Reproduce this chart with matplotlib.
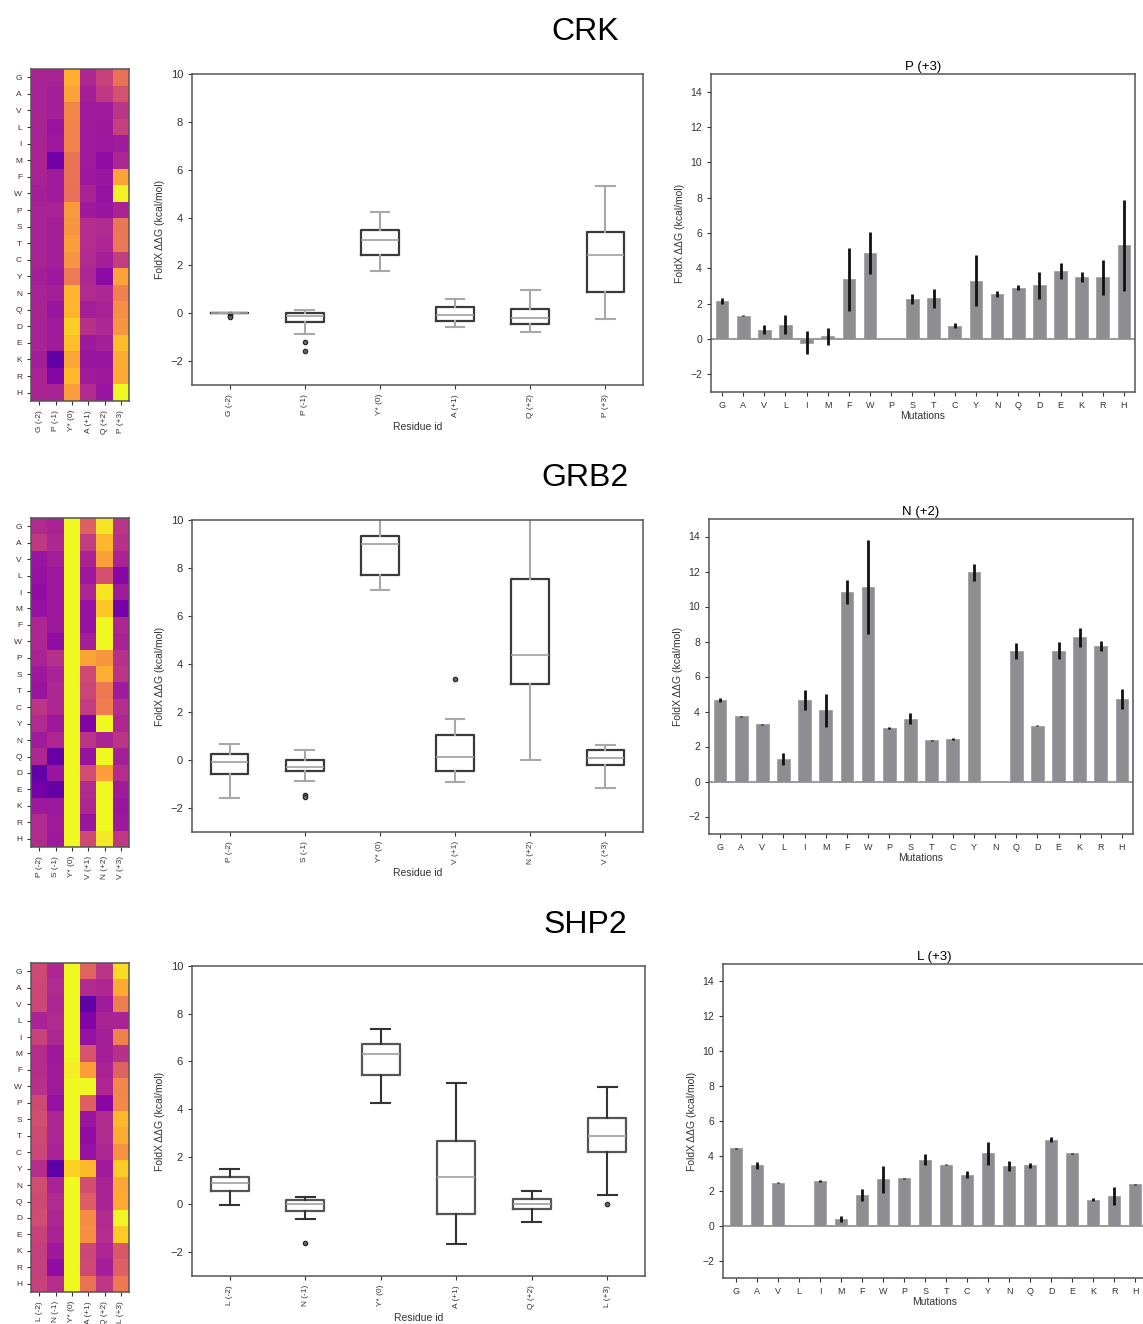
import matplotlib
matplotlib.use("Agg")
import matplotlib.pyplot as plt
import numpy as np

plt.rcParams['font.family'] = ['Liberation Sans', 'DejaVu Sans']

W, H = 1143, 1324

mutations = ['G', 'A', 'V', 'L', 'I', 'M', 'F', 'W', 'P', 'S',
             'T', 'C', 'Y', 'N', 'Q', 'D', 'E', 'K', 'R', 'H']

# ---- CRK ----
crk_residues = ['G (-2)', 'P (-1)', 'Y* (0)', 'A (+1)', 'Q (+2)', 'P (+3)']
crk_heat = [
    # G(-2) P(-1) Y*(0) A(+1) Q(+2) P(+3)
    [0.0, 0.0, 3.6, 0.1, 0.9, 2.15],
    [0.0, -0.1, 3.3, -0.1, 0.6, 1.33],
    [0.0, -0.1, 2.7, -0.2, -0.2, 0.53],
    [0.0, -0.4, 2.6, -0.2, -0.3, 0.82],
    [0.0, -0.3, 2.6, -0.2, -0.3, -0.2],
    [0.0, -1.22, 2.2, -0.2, -0.6, 0.15],
    [0.0, -0.2, 2.2, -0.3, -0.4, 3.37],
    [-0.1, -0.2, 2.1, 0.0, -0.5, 4.86],
    [0.0, 0.0, 3.1, -0.3, -0.4, 0.0],
    [0.0, -0.1, 3.0, 0.3, 0.2, 2.25],
    [0.0, -0.1, 3.2, 0.3, 0.1, 2.3],
    [0.0, -0.1, 3.0, 0.2, -0.1, 0.76],
    [-0.1, -0.3, 2.4, 0.1, -0.7, 3.3],
    [0.0, -0.1, 3.7, 0.2, 0.1, 2.53],
    [0.0, -0.4, 3.7, -0.1, 0.0, 2.9],
    [0.0, -0.2, 4.2, 0.4, 0.1, 3.03],
    [0.0, -0.2, 3.9, -0.3, -0.1, 3.85],
    [-0.15, -1.58, 3.4, -0.4, -0.4, 3.5],
    [0.0, -0.85, 3.8, -0.2, -0.3, 3.49],
    [0.0, 0.0, 3.2, 0.2, -0.4, 5.3],
]
crk_med = [0.0, -0.13, 3.05, -0.08, -0.18, 2.43]
crk_q1 = [0.0, -0.38, 2.42, -0.32, -0.45, 0.87]
crk_q3 = [0.0, 0.02, 3.48, 0.24, 0.19, 3.40]
crk_lo = [0.0, -0.85, 1.77, -0.57, -0.77, -0.25]
crk_hi = [0.0, 0.12, 4.23, 0.58, 0.97, 5.32]
crk_fliers = [[-0.05, -0.1, -0.15], [-1.22, -1.58], [], [], [], []]
crk_bar_title = 'P (+3)'
crk_bar = [2.15, 1.33, 0.53, 0.82, -0.2, 0.15, 3.37, 4.86, 0.0, 2.25,
           2.3, 0.76, 3.3, 2.53, 2.9, 3.03, 3.85, 3.5, 3.49, 5.3]
crk_err = [0.15, 0.04, 0.25, 0.55, 0.63, 0.47, 1.78, 1.18, 0.0, 0.27,
           0.55, 0.14, 1.45, 0.18, 0.15, 0.78, 0.43, 0.27, 1.0, 2.57]

# ---- GRB2 ----
grb2_residues = ['P (-2)', 'S (-1)', 'Y* (0)', 'V (+1)', 'N (+2)', 'V (+3)']
grb2_heat = [
    [0.2, 0.0, 9.0, 1.7, 4.64, 0.5],
    [0.6, 0.1, 8.7, 0.7, 3.72, 0.4],
    [-0.4, -0.1, 9.2, 0.0, 3.26, 0.0],
    [-0.5, -0.3, 9.3, -0.3, 1.3, -0.8],
    [-0.6, -0.3, 9.1, 0.1, 4.64, -0.2],
    [-0.5, -0.3, 8.9, -0.5, 4.08, -1.16],
    [0.1, -0.3, 10.2, -0.5, 10.84, 0.1],
    [0.1, -0.6, 10.8, -0.1, 11.13, 0.0],
    [0.0, 0.4, 7.1, 3.37, 3.05, 0.4],
    [-0.3, 0.0, 7.7, 1.1, 3.59, 0.5],
    [-0.4, 0.1, 7.9, 1.0, 2.35, -0.2],
    [0.5, 0.1, 8.5, 0.7, 2.44, 0.3],
    [0.2, -0.3, 9.0, -0.93, 11.95, 0.1],
    [-0.2, 0.1, 9.2, 0.5, 0.0, 0.5],
    [0.1, -1.45, 9.3, -0.45, 7.46, -0.1],
    [-1.57, -0.4, 9.4, 1.2, 3.19, 0.3],
    [-1.2, -1.55, 9.1, 0.2, 7.48, -0.2],
    [-0.3, -0.3, 8.8, 0.1, 8.23, -0.4],
    [0.2, -0.2, 9.0, -0.4, 7.75, -0.3],
    [0.2, -0.3, 9.3, 1.1, 4.71, 0.62],
]
grb2_med = [-0.10, -0.28, 9.00, 0.12, 4.36, 0.07]
grb2_q1 = [-0.58, -0.44, 7.70, -0.45, 3.17, -0.22]
grb2_q3 = [0.26, 0.00, 9.33, 1.04, 7.55, 0.41]
grb2_lo = [-1.57, -0.87, 7.07, -0.93, 0.00, -1.16]
grb2_hi = [0.67, 0.40, 10.9, 1.70, 12.5, 0.62]
grb2_fliers = [[], [-1.45, -1.55], [], [3.37], [], []]
grb2_bar_title = 'N (+2)'
grb2_bar = [4.64, 3.72, 3.26, 1.3, 4.64, 4.08, 10.84, 11.13, 3.05, 3.59,
            2.35, 2.44, 11.95, 0.0, 7.46, 3.19, 7.48, 8.23, 7.75, 4.71]
grb2_err = [0.12, 0.03, 0.04, 0.35, 0.57, 0.94, 0.67, 2.69, 0.05, 0.33,
            0.04, 0.05, 0.5, 0.0, 0.48, 0.04, 0.5, 0.57, 0.3, 0.59]

# ---- SHP2 ----
shp2_residues = ['L (-2)', 'N (-1)', 'Y* (0)', 'A (+1)', 'Q (+2)', 'L (+3)']
shp2_heat = [
    [1.1, 0.1, 6.3, 1.8, 0.5, 4.44],
    [1.0, 0.2, 6.5, 0.2, 0.1, 3.45],
    [1.0, 0.1, 6.8, -1.65, -0.2, 2.47],
    [0.0, 0.2, 6.0, -0.9, 0.0, 0.0],
    [0.9, 0.1, 6.6, -0.5, -0.1, 2.55],
    [0.3, -0.3, 5.8, 1.4, -0.1, 0.38],
    [0.3, -0.2, 4.8, 3.2, 0.0, 1.76],
    [0.4, -0.2, 5.4, 5.08, 0.1, 2.66],
    [1.1, -0.5, 6.2, 1.7, -0.72, 2.72],
    [1.2, 0.1, 6.7, -0.4, 0.2, 3.79],
    [1.1, 0.1, 6.4, -0.6, 0.2, 3.5],
    [1.0, 0.0, 6.5, -0.5, 0.1, 2.93],
    [0.3, -1.6, 4.25, 3.8, -0.2, 4.14],
    [1.2, 0.0, 6.2, 1.2, 0.0, 3.41],
    [1.1, 0.2, 5.5, 1.6, 0.0, 3.45],
    [1.2, 0.1, 7.35, 2.8, 0.2, 4.92],
    [0.9, 0.0, 6.9, 2.9, 0.3, 4.16],
    [0.8, -0.3, 6.1, 1.0, 0.1, 1.49],
    [0.8, -0.6, 5.6, 1.1, -0.1, 1.7],
    [0.9, 0.3, 7.0, 2.2, 0.55, 2.36],
]
shp2_med = [0.90, 0.03, 6.30, 1.15, 0.02, 2.85]
shp2_q1 = [0.58, -0.27, 5.43, -0.41, -0.17, 2.22]
shp2_q3 = [1.17, 0.19, 6.75, 2.65, 0.24, 3.62]
shp2_lo = [-0.02, -0.62, 4.25, -1.65, -0.72, 0.38]
shp2_hi = [1.48, 0.32, 7.35, 5.08, 0.55, 4.93]
shp2_fliers = [[], [-1.6], [], [], [], [0.0]]
shp2_bar_title = 'L (+3)'
shp2_bar = [4.44, 3.45, 2.47, 0.0, 2.55, 0.38, 1.76, 2.66, 2.72, 3.79,
            3.5, 2.93, 4.14, 3.41, 3.45, 4.92, 4.16, 1.49, 1.7, 2.36]
shp2_err = [0.03, 0.2, 0.02, 0.0, 0.05, 0.15, 0.35, 0.78, 0.03, 0.3,
            0.04, 0.18, 0.65, 0.28, 0.16, 0.15, 0.03, 0.08, 0.5, 0.03]

rows = [
    dict(name='CRK', res=crk_residues, heat=crk_heat, med=crk_med, q1=crk_q1,
         q3=crk_q3, lo=crk_lo, hi=crk_hi, fliers=crk_fliers,
         title=crk_bar_title, bar=crk_bar, err=crk_err,
         heat_px=(31, 69, 129, 401), box_px=(192, 74, 643, 385),
         bar_px=(711, 74, 1135, 392), xl=(-0.52, 19.52), title_y=32,
         box_edge='#3a3a3a', whisk='#a8a8a8'),
    dict(name='GRB2', res=grb2_residues, heat=grb2_heat, med=grb2_med, q1=grb2_q1,
         q3=grb2_q3, lo=grb2_lo, hi=grb2_hi, fliers=grb2_fliers,
         title=grb2_bar_title, bar=grb2_bar, err=grb2_err,
         heat_px=(31, 518, 129, 847), box_px=(192, 520, 643, 832),
         bar_px=(709, 519, 1133, 834), xl=(-0.52, 19.52), title_y=478,
         box_edge='#3a3a3a', whisk='#a8a8a8'),
    dict(name='SHP2', res=shp2_residues, heat=shp2_heat, med=shp2_med, q1=shp2_q1,
         q3=shp2_q3, lo=shp2_lo, hi=shp2_hi, fliers=shp2_fliers,
         title=shp2_bar_title, bar=shp2_bar, err=shp2_err,
         heat_px=(31, 963, 129, 1292), box_px=(192, 966, 645, 1276),
         bar_px=(723, 964, 1146, 1278), xl=(-0.62, 19.52), title_y=925,
         box_edge='#555555', whisk='#333333'),
]

SPINE = '#555555'
YLAB = 'FoldX ΔΔG (kcal/mol)'


def px_rect(x0, y0, x1, y1):
    return [x0 / W, 1 - y1 / H, (x1 - x0) / W, (y1 - y0) / H]


def style(ax, size):
    for s in ax.spines.values():
        s.set_color(SPINE)
        s.set_linewidth(1.1)
    ax.tick_params(colors='#333333', labelsize=size, length=3, width=0.8)


fig = plt.figure(figsize=(W / 100, H / 100), dpi=100)

for r in rows:
    fig.text(585 / W, 1 - r['title_y'] / H, r['name'], ha='center', va='center',
             fontsize=23, color='black')

    # heatmap
    ax = fig.add_axes(px_rect(*r['heat_px']))
    ax.imshow(np.array(r['heat']), cmap='plasma', vmin=-3, vmax=5,
              aspect='auto', interpolation='nearest')
    ax.set_yticks(range(len(mutations)))
    ax.set_yticklabels(mutations)
    ax.set_xticks(range(len(r['res'])))
    ax.set_xticklabels(r['res'], rotation=90)
    style(ax, 6)

    # boxplot
    ax = fig.add_axes(px_rect(*r['box_px']))
    stats = []
    for i in range(len(r['res'])):
        stats.append(dict(med=r['med'][i], q1=r['q1'][i], q3=r['q3'][i],
                          whislo=r['lo'][i], whishi=r['hi'][i],
                          fliers=r['fliers'][i]))
    ax.bxp(stats, positions=range(len(stats)), widths=0.5,
           boxprops=dict(color=r['box_edge'], linewidth=1.6),
           whiskerprops=dict(color=r['whisk'], linewidth=1.5),
           capprops=dict(color=r['whisk'], linewidth=1.5),
           medianprops=dict(color='#a0a0a0', linewidth=1.2),
           flierprops=dict(marker='o', markersize=3.2, markerfacecolor='#666666',
                           markeredgecolor='#222222', markeredgewidth=0.8))
    ax.set_xlim(-0.5, 5.5)
    ax.set_ylim(-3, 10)
    ax.set_yticks([-2, 0, 2, 4, 6, 8, 10])
    ax.set_xticks(range(len(r['res'])))
    ax.set_xticklabels(r['res'], rotation=90)
    ax.set_xlabel('Residue id', fontsize=7.5, color='#333333', labelpad=3)
    ax.set_ylabel(YLAB, fontsize=7.5, color='#333333')
    style(ax, 8)
    ax.tick_params(axis='x', labelsize=6)

    # bar chart
    ax = fig.add_axes(px_rect(*r['bar_px']))
    x = np.arange(len(mutations))
    ax.bar(x, r['bar'], width=0.6, color='#8e8e92', edgecolor='#a0a0a4',
           linewidth=0.6, zorder=2)
    err = np.array(r['err'])
    keep = err > 0
    ax.errorbar(x[keep], np.array(r['bar'])[keep], yerr=err[keep], fmt='none',
                ecolor='#111111', elinewidth=2.0, capsize=0, zorder=3)
    ax.axhline(0, color='#8a8a8a', linewidth=1.2, zorder=1)
    ax.set_xlim(*r['xl'])
    ax.set_ylim(-3, 15)
    ax.set_yticks([-2, 0, 2, 4, 6, 8, 10, 12, 14])
    ax.set_xticks(x)
    ax.set_xticklabels(mutations)
    ax.set_xlabel('Mutations', fontsize=7.5, color='#333333', labelpad=1)
    ax.set_ylabel(YLAB, fontsize=7.5, color='#333333')
    ax.set_title(r['title'], fontsize=9.5, pad=3)
    style(ax, 7.5)
    ax.tick_params(axis='x', labelsize=6.5)

fig.savefig('out.png', dpi=100)
